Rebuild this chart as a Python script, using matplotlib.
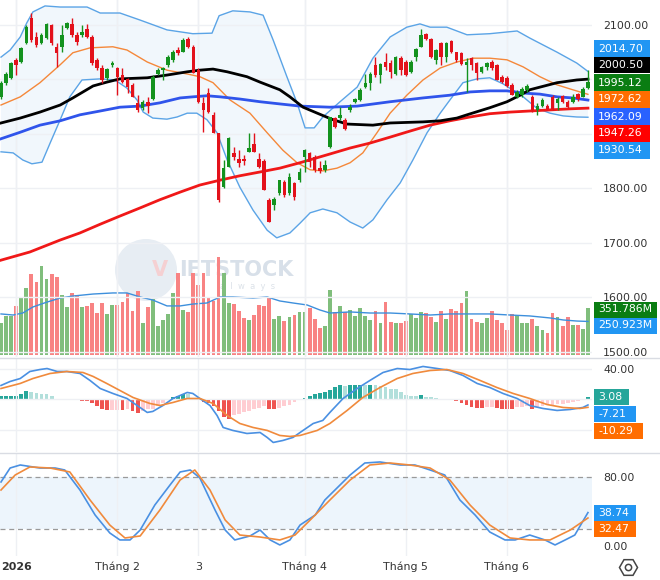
import numpy as np
import matplotlib
matplotlib.use("Agg")
import matplotlib.pyplot as plt
from matplotlib.lines import Line2D
from matplotlib.patches import Ellipse, Rectangle

plt.rcParams['font.family'] = ['DejaVu Sans']

# ---------------- data ----------------
opens = [1968, 1993, 2003, 2036, 2032, 2067, 2113, 2078, 2067, 2076,
         2100, 2060, 2060, 2094, 2102, 2082, 2082, 2093, 2078, 2036,
         2021, 2003, 2027, 2021, 2008, 2001, 1990, 1957, 1948, 1959,
         1964, 2010, 2017, 2027, 2036, 2054, 2050, 2074, 2060, 2017,
         1957, 1975, 1935, 1902, 1802, 1839, 1865, 1854, 1854, 1867,
         1881, 1854, 1850, 1779, 1769, 1791, 1812, 1791, 1810, 1815,
         1858, 1865, 1858, 1837, 1834, 1876, 1929, 1929, 1925, 1944,
         1959, 1962, 1986, 1993, 2027, 2008, 2032, 2030, 2010, 2039,
         2032, 2014, 2041, 2060, 2083, 2074, 2036, 2067, 2041, 2071,
         2050, 2049, 2027, 2039, 2030, 2014, 2023, 2032, 2027, 2004,
         2003, 1990, 1968, 1971, 1981, 1968, 1944, 1951, 1951, 1968,
         1957, 1970, 1959, 1959, 1973, 1968, 1984]
highs = [1997, 2013, 2032, 2039, 2060, 2100, 2122, 2087, 2085, 2104,
         2102, 2067, 2100, 2106, 2113, 2087, 2100, 2102, 2082, 2039,
         2027, 2021, 2034, 2023, 2021, 2003, 1993, 1971, 1962, 1968,
         2008, 2021, 2023, 2045, 2054, 2060, 2076, 2078, 2063, 2021,
         1968, 1984, 1940, 1902, 1852, 1894, 1876, 1870, 1861, 1902,
         1902, 1865, 1854, 1782, 1784, 1815, 1815, 1828, 1812, 1837,
         1872, 1867, 1861, 1850, 1852, 1931, 1931, 1949, 1929, 1955,
         1966, 1984, 2010, 2014, 2041, 2030, 2049, 2036, 2043, 2043,
         2036, 2036, 2058, 2093, 2085, 2076, 2056, 2069, 2069, 2072,
         2050, 2050, 2039, 2041, 2032, 2025, 2032, 2036, 2028, 2008,
         2006, 1993, 1981, 1986, 1991, 1971, 1957, 1966, 1955, 1971,
         1968, 1971, 1962, 1973, 1975, 1986, 2017]
lows = [1964, 1990, 2001, 2008, 2030, 2065, 2069, 2060, 2065, 2074,
        2063, 2023, 2050, 2092, 2078, 2063, 2078, 2076, 2027, 2017,
        1993, 1999, 2023, 1971, 1993, 1975, 1968, 1940, 1944, 1938,
        1962, 2008, 1999, 2023, 2032, 2045, 2050, 2058, 2012, 1957,
        1903, 1938, 1902, 1775, 1800, 1839, 1852, 1839, 1843, 1867,
        1867, 1837, 1797, 1738, 1760, 1788, 1784, 1788, 1779, 1812,
        1830, 1839, 1830, 1828, 1830, 1874, 1911, 1925, 1907, 1940,
        1957, 1960, 1984, 1981, 2004, 1993, 2017, 2003, 2008, 2008,
        2006, 2012, 2034, 2060, 2072, 2039, 2028, 2027, 2032, 2049,
        2032, 2027, 1977, 2017, 1999, 2012, 2017, 2017, 1999, 1993,
        1986, 1971, 1966, 1968, 1977, 1940, 1935, 1949, 1944, 1944,
        1944, 1957, 1948, 1957, 1960, 1968, 1982]
closes = [1993, 2010, 2030, 2027, 2058, 2096, 2072, 2063, 2082, 2102,
          2067, 2049, 2082, 2104, 2082, 2069, 2087, 2078, 2030, 2021,
          1999, 2019, 2030, 2004, 1995, 1986, 1968, 1944, 1959, 1951,
          2004, 2017, 2021, 2041, 2050, 2049, 2072, 2060, 2012, 1959,
          1944, 1940, 1902, 1779, 1837, 1892, 1858, 1846, 1850, 1874,
          1867, 1839, 1797, 1738, 1780, 1815, 1788, 1821, 1784, 1830,
          1870, 1848, 1834, 1832, 1843, 1931, 1913, 1935, 1909, 1949,
          1964, 1981, 1993, 2010, 2008, 2028, 2023, 2014, 2041, 2017,
          2008, 2032, 2056, 2082, 2074, 2041, 2054, 2041, 2067, 2050,
          2036, 2028, 2032, 2027, 2012, 2023, 2030, 2021, 1999, 1995,
          1988, 1971, 1977, 1982, 1988, 1944, 1951, 1962, 1946, 1946,
          1964, 1959, 1949, 1968, 1964, 1982, 1995.12]
volumes = [242, 292, 292, 367, 432, 499, 606, 546, 666, 568,
           606, 581, 449, 357, 466, 449, 357, 367, 391, 316,
           391, 307, 374, 374, 399, 466, 329, 481, 242, 357,
           417, 217, 262, 307, 466, 616, 337, 322, 616, 526,
           616, 436, 406, 731, 616, 391, 381, 331, 277, 262,
           301, 376, 367, 426, 269, 294, 252, 286, 299, 324,
           324, 354, 269, 204, 219, 486, 322, 367, 322, 337,
           292, 352, 292, 262, 329, 239, 396, 249, 239, 239,
           254, 307, 277, 322, 314, 284, 247, 329, 269, 344,
           329, 389, 479, 269, 247, 239, 277, 329, 262, 239,
           187, 307, 299, 239, 239, 269, 217, 187, 165, 314,
           284, 217, 284, 224, 224, 194, 351.786]
macd_hist = [4.4, 4.4, 5.2, 5.2, 7.4, 10.9, 9.6, 7.9, 7.4, 6.6,
             4.4, 0.9, 0.9, 1.0, 0.2, -1.3, -2.2, -2.2, -4.4, -8.7,
             -13.1, -14.4, -14.0, -13.5, -14.4, -13.1, -15.3, -17.5, -15.3, -13.1,
             -12.2, -8.7, -4.4, 0.9, 3.5, 5.2, 7.4, 6.6, 2.2, 0.9,
             -3.1, -4.4, -8.7, -15.3, -23.0, -25.3, -21.0, -18.4, -16.6, -15.3,
             -12.2, -10.9, -8.7, -12.2, -13.1, -10.9, -8.7, -6.6, -3.5, 0.9,
             2.2, 5.2, 7.4, 8.7, 9.6, 12.5, 16.2, 18.4, 18.0, 18.4,
             19.2, 19.2, 18.8, 19.2, 18.4, 17.5, 16.2, 14.0, 13.1, 9.6,
             6.1, 5.2, 5.0, 6.1, 3.1, 3.0, 1.7, -1.3, -1.3, -1.3,
             -2.6, -4.4, -7.9, -10.0, -11.4, -11.4, -10.0, -9.6, -11.4, -12.2,
             -12.4, -12.5, -10.0, -9.6, -9.2, -13.1, -10.0, -8.7, -7.9, -7.0,
             -5.7, -5.5, -4.4, -3.5, -2.6, 0.9, 3.08]

# indicator lines: (bar index, value)
bb_upper = [(0, 2041), (1.8, 2054), (3.8, 2078), (5.1, 2104), (6.3, 2124), (8.7, 2135),
            (11.7, 2133), (17, 2133), (19.6, 2122), (23.5, 2122), (27.5, 2109), (32.8, 2091),
            (37.9, 2084), (41.7, 2085), (43.1, 2117), (45.8, 2126), (49.2, 2124), (51.8, 2118),
            (53.8, 2072), (56.5, 2005), (58.5, 1957), (60.1, 1911), (61.9, 1911), (63.6, 1931),
            (67, 1959), (70.4, 1986), (73.5, 2039), (76.9, 2078), (80.2, 2096), (82.8, 2102),
            (84.8, 2096), (88.1, 2096), (92.1, 2082), (96.6, 2084), (102, 2089), (104.5, 2076),
            (109.9, 2050), (113.8, 2030), (116, 2014.70)]
bb_lower = [(0, 1867), (2.4, 1865), (4.3, 1852), (6.1, 1845), (8.1, 1848), (9.7, 1883),
            (11.7, 1926), (13.6, 1968), (16, 1999), (19.6, 2001), (22.5, 1999), (24.9, 1984),
            (26.9, 1962), (28.1, 1940), (30, 1929), (32.8, 1927), (34.8, 1931), (36.8, 1938),
            (38.7, 1938), (40.7, 1926), (42.7, 1902), (44.7, 1852), (47.2, 1802), (49.8, 1760),
            (52.6, 1723), (54.5, 1709), (57.1, 1718), (59.1, 1736), (61.1, 1755), (63.6, 1762),
            (66.4, 1755), (69, 1738), (71.5, 1727), (73.5, 1742), (76.3, 1779), (78.9, 1810),
            (81.4, 1852), (84.2, 1902), (86.8, 1938), (88.7, 1962), (91.3, 1994), (94.1, 2001),
            (96.6, 2003), (99.2, 1992), (101.2, 1980), (103.2, 1968), (105.9, 1947),
            (108.5, 1938), (111.1, 1933), (113.8, 1931), (116, 1930.54)]
ma20 = [(0, 1953), (3.8, 1968), (7.7, 1994), (11.7, 2027), (14.2, 2049), (17.6, 2058),
        (22.1, 2060), (24.9, 2054), (28.9, 2032), (32.8, 2017), (36.8, 2010), (39.3, 2005),
        (41.9, 1994), (45.3, 1962), (49.2, 1938), (52.6, 1902), (55.7, 1870), (58.5, 1847),
        (61.1, 1834), (63.6, 1832), (66.4, 1837), (69, 1847), (71.5, 1865), (74.3, 1902),
        (76.9, 1938), (80.2, 1971), (83.4, 1999), (86.8, 2021), (90.1, 2032), (93.3, 2039),
        (96.6, 2039), (100, 2036), (103.2, 2023), (106.5, 2005), (109.9, 1990), (113, 1981),
        (116, 1972.62)]
ma_black = [(0, 1920), (3.8, 1929), (7.7, 1940), (11.7, 1953), (14.2, 1966), (16.2, 1977),
            (18.2, 1988), (20.9, 1995), (23.5, 2001), (28.9, 2003), (32.8, 2008), (36.8, 2014),
            (39.3, 2017), (41.9, 2019), (44.7, 2014), (48.6, 2005), (51.2, 1995), (55.1, 1981),
            (57.1, 1968), (59.7, 1949), (62.5, 1938), (65.6, 1926), (68.4, 1918), (73.5, 1916),
            (76.9, 1920), (83.4, 1922), (86.8, 1924), (90.1, 1929), (92.1, 1935), (96.6, 1948),
            (100, 1959), (102.6, 1971), (104.5, 1981), (109.9, 1994), (113.8, 1999), (116, 2000.50)]
ma_blue = [(0, 1891), (3.8, 1903), (7.7, 1916), (11.7, 1924), (15.6, 1935), (19.6, 1942),
           (23.5, 1949), (27.5, 1951), (31.4, 1957), (35.4, 1966), (37.9, 1968), (40.7, 1970),
           (43.3, 1968), (47.2, 1964), (51.2, 1959), (55.1, 1955), (59.1, 1951), (65, 1949),
           (70.4, 1951), (76.9, 1959), (83.4, 1966), (88.7, 1971), (92.7, 1977), (96.6, 1979),
           (100, 1979), (103.2, 1975), (106.5, 1973), (109.9, 1968), (113, 1966), (116, 1962.09)]
ma_red = [(0, 1668), (5.7, 1683), (11.7, 1705), (15.6, 1718), (19.6, 1734), (23.5, 1749),
          (27.5, 1764), (31.4, 1779), (35.4, 1793), (39.3, 1806), (43.3, 1815), (47.2, 1823),
          (51.2, 1830), (55.1, 1837), (59.1, 1847), (65, 1863), (69, 1874), (72.9, 1883),
          (76.9, 1894), (80.8, 1905), (84.8, 1916), (88.7, 1924), (92.7, 1931), (96.6, 1937),
          (100.6, 1940), (104.5, 1942), (108.5, 1944), (112.5, 1946), (116, 1947.26)]
vol_ma = [(0, 307), (2.4, 299), (4.3, 314), (6.3, 359), (9.1, 396), (11.7, 426), (14.2, 441),
          (18.2, 456), (22.1, 464), (24.9, 464), (27.5, 434), (30, 411), (32.8, 367), (35.4, 367),
          (37.9, 381), (40.7, 389), (43.3, 434), (45.8, 434), (49.8, 426), (52.6, 434),
          (55.1, 404), (57.7, 389), (60.5, 374), (63, 337), (65, 314), (69, 322), (72.9, 314),
          (76.9, 314), (80.8, 307), (84.8, 299), (88.7, 307), (92.7, 307), (96.6, 307),
          (100.6, 299), (104.5, 292), (108.5, 277), (111.1, 262), (113.8, 254), (116, 250.923)]
macd_line = [(0, 18.4), (1.8, 23.6), (3.8, 27.5), (5.7, 36.7), (7.7, 39.3), (9.1, 40.6),
             (11.1, 36.7), (13, 36.7), (15.6, 34.1), (17.6, 24.9), (19.6, 14.4), (22.1, 7.9),
             (24.9, 1.3), (26.9, -7.9), (28.9, -17), (30, -15.7), (32, -7.9), (34, 1.3),
             (36.8, 9.2), (37.9, 7.9), (39.3, 1.3), (41.3, -7.9), (42.7, -21), (43.9, -36.7),
             (45.8, -40.6), (48.6, -44.6), (51.2, -43.3), (52.6, -49.8), (53.8, -56.4),
             (55.7, -53.8), (57.7, -49.8), (59.7, -40.6), (61.7, -31.5), (63.6, -27.5),
             (65, -17), (67.6, 1.3), (70.4, 14.4), (72.9, 24.9), (75.5, 35.4), (78.3, 40.6),
             (80.8, 39.3), (83.4, 43.3), (86.2, 40.6), (88.7, 38), (91.3, 31.5), (94.1, 21),
             (96.6, 15.7), (99.2, 7.9), (102, 1.3), (104.5, -7.9), (107.1, -11.8),
             (109.9, -14.4), (112.5, -13.1), (115, -10.5), (116, -7.21)]
macd_signal = [(0, 14.4), (3.8, 21), (6.3, 27.5), (9.7, 34.1), (13, 36.7), (16.2, 35.4),
               (18.2, 30.2), (20.9, 21), (23.5, 11.8), (26.1, 2.6), (29.4, -5.2), (31.4, -7.9),
               (34, -3.9), (36.8, 1.3), (39.3, 1.3), (41.9, -5.2), (44.7, -21), (47.2, -31.5),
               (49.8, -36.7), (52.6, -40.6), (55.1, -47.2), (57.1, -48.5), (59.1, -47.2),
               (62.5, -40.6), (65, -31.5), (68.4, -14.4), (71.5, 2.6), (74.9, 15.7),
               (78.3, 27.5), (81.4, 34.1), (84.8, 38), (88.1, 39.3), (91.3, 34.1), (94.7, 24.9),
               (98, 15.7), (101.2, 7.9), (104.5, 1.3), (107.9, -6.6), (111.1, -10.5),
               (114.4, -11.8), (116, -10.29)]
stoch_k = [(0, 74.2), (1.8, 90.4), (3.8, 93.9), (7.7, 90.4), (10.7, 90.4), (12.6, 88.1),
           (15.6, 64.9), (18.6, 35.9), (21.5, 15.1), (23.5, 7), (25.5, 7), (27.5, 18.5),
           (30.4, 47.5), (33.4, 70.7), (35.4, 85.8), (37.4, 88.1), (39.3, 78.8), (42.3, 41.7),
           (44.3, 18.5), (46.2, 7), (49.2, 11.6), (51.2, 18.5), (53.2, 7), (55.1, 1.2),
           (57.1, 7), (59.1, 24.3), (62.1, 35.9), (64, 53.3), (66, 64.9), (69, 82.3),
           (71.9, 96.2), (74.9, 97.4), (78.9, 93.9), (81.8, 93.9), (84.8, 88.1), (87.7, 82.3),
           (90.7, 53.3), (93.7, 35.9), (96.6, 16.2), (99.6, 7), (101.6, 7), (104.5, 12.7),
           (107.5, 7), (109.5, 1.2), (111.5, 7), (113.4, 12.7), (116, 38.74)]
stoch_d = [(0, 64.9), (2.8, 82.3), (5.7, 91.6), (9.7, 90.4), (13.6, 85.8), (17.6, 53.3),
           (21.5, 24.3), (24.5, 9.3), (27.5, 11.6), (31.4, 41.7), (35.4, 76.5), (38.3, 88.1),
           (41.3, 64.9), (44.3, 30.1), (47.2, 12.7), (51.2, 10.4), (55.1, 7), (58.1, 12.7),
           (61.1, 30.1), (65, 53.3), (69, 76.5), (72.9, 93.9), (76.9, 96.2), (80.8, 93.9),
           (84.8, 90.4), (88.7, 76.5), (92.7, 47.5), (96.6, 24.3), (100.6, 9.3), (104.5, 7),
           (108.5, 7), (112.5, 18.5), (116, 32.47)]

month_pos = [3, 23, 39, 60, 80, 100]
month_labels = ['2026', 'Tháng 2', '3', 'Tháng 4', 'Tháng 5', 'Tháng 6']
price_ticks = [1500, 1600, 1700, 1800, 1900, 2000, 2100]
price_hidden = [1900, 2000]   # labels sit behind the value tags

# ---------------- layout ----------------
W, H = 660, 580
GREEN, RED = '#13921e', '#e3111b'
GRID = '#eef0f4'
TXT = '#333333'
FS = 7.9

fig = plt.figure(figsize=(W / 100, H / 100), dpi=100, facecolor='white')


def box(top, bottom, right=592):
    return [0, 1 - bottom / H, right / W, (bottom - top) / H]


def curve(pts):
    a = np.array(pts, dtype=float)
    return a[:, 0], a[:, 1]


def px(x, y):
    return x / W, 1 - y / H


ax_v = fig.add_axes(box(0, 357), zorder=0)
ax_p = fig.add_axes(box(0, 357), zorder=1, sharex=ax_v)
ax_m = fig.add_axes(box(358, 452), sharex=ax_v)
ax_s = fig.add_axes(box(453, 556), sharex=ax_v)

for a in (ax_v, ax_p, ax_m, ax_s):
    a.patch.set_visible(False)
    for s in a.spines.values():
        s.set_visible(False)
    a.set_xticks(month_pos)
    a.grid(axis='x', color=GRID, lw=1)
    a.tick_params(length=0, labelsize=FS, labelcolor=TXT, pad=8)
    a.yaxis.tick_right()
ax_v.set_xlim(-0.2, 116.8)

# watermark
fig.add_artist(Ellipse(px(146, 270), 62 / W, 62 / H, transform=fig.transFigure,
                       fc='#dfe7ef', ec='none', alpha=0.75, zorder=-2))
fig.text(*px(160, 270), 'V', color='#f5d0d2', fontsize=15, fontweight='bold',
         ha='center', va='center', zorder=-1)
fig.text(*px(236, 270), 'IETSTOCK', color='#d8e0e9', fontsize=15, fontweight='bold',
         ha='center', va='center', zorder=-1)
fig.text(*px(248, 287), 'a  l  w  a  y  s', color='#dce2e9', fontsize=6,
         ha='center', va='center', zorder=-1)

x = np.arange(len(closes))
up = np.array(closes) >= np.array(opens)

# volume (behind the price panel)
ax_v.bar(x, volumes, width=0.75, color=np.where(up, '#80be7c', '#f88383'), lw=0)
ax_v.plot(*curve(vol_ma), color='#3d8fdc', lw=1)
ax_v.set_ylim(-15, 2655)
ax_v.set_yticks([])
ax_v.tick_params(labelbottom=False)

# price panel
ux, uy = curve(bb_upper)
lx, ly = curve(bb_lower)
ax_p.fill(np.r_[ux, lx[::-1]], np.r_[uy, ly[::-1]], color='#e4f0fb', alpha=0.5, lw=0)
ax_p.plot(ux, uy, color='#5ba4e6', lw=1)
ax_p.plot(lx, ly, color='#5ba4e6', lw=1)
ax_p.plot(*curve(ma20), color='#f5883a', lw=1)
ax_p.plot(*curve(ma_red), color='#f01818', lw=2)
ax_p.plot(*curve(ma_blue), color='#2f54eb', lw=2)
ax_p.plot(*curve(ma_black), color='black', lw=2)

for i in x:
    c = GREEN if up[i] else RED
    o, cl = opens[i], closes[i]
    ax_p.vlines(i, lows[i], highs[i], color=c, lw=1, zorder=3)
    ax_p.bar(i, max(abs(cl - o), 1.2), bottom=min(o, cl), width=0.7, color=c, lw=0, zorder=3)

ax_p.set_ylim(1490.1, 2145.9)
ax_p.set_yticks(price_ticks, ['' if t in price_hidden else f'{t:.2f}' for t in price_ticks])
ax_p.grid(axis='y', color=GRID, lw=1)
ax_p.tick_params(labelbottom=False)

# MACD panel
h = np.array(macd_hist)
prev = np.r_[h[0], h[:-1]]
hcol = np.where(h >= 0, np.where(h >= prev, '#26a69a', '#b2dfdb'),
                np.where(h <= prev, '#ef5350', '#ffcdd2'))
ax_m.bar(x, h, width=0.75, color=hcol, lw=0)
ax_m.plot(*curve(macd_line), color='#4a90e2', lw=1.2)
ax_m.plot(*curve(macd_signal), color='#f08a3c', lw=1.2)
ax_m.set_ylim(-68.9, 54.4)
ax_m.set_yticks([-40, 0, 40], ['', '', '40.00'])
ax_m.grid(axis='y', color=GRID, lw=1)
ax_m.tick_params(labelbottom=False)

# stochastic panel
ax_s.axhspan(20, 80, color='#e6f1fc', alpha=0.7, lw=0)
for lvl in (20, 80):
    ax_s.axhline(lvl, color='#9a9a9a', lw=0.9, dashes=(4, 3))
ax_s.plot(*curve(stoch_k), color='#4a90e2', lw=1.2)
ax_s.plot(*curve(stoch_d), color='#f08a3c', lw=1.2)
ax_s.set_ylim(-11.6, 107.8)
ax_s.set_yticks([0, 80], ['0.00', '80.00'])
ax_s.set_xticklabels(month_labels)
ax_s.tick_params(axis='x', pad=4)
ax_s.get_xticklabels()[0].set_fontweight('bold')

# panel separators
for y in (357.5, 452.5):
    fig.add_artist(Line2D([0, 1], [1 - y / H] * 2, color='#d9dce3', lw=1,
                          transform=fig.transFigure))


# last-value tags on the right scale
def tag(y, text, color):
    w = 8 + 6.85 * len(text)
    fig.add_artist(Rectangle(px(594, y + 8), w / W, 16 / H, transform=fig.transFigure,
                             fc=color, ec='none', zorder=9))
    fig.text(598 / W, 1 - y / H, text, color='white', fontsize=7.8, ha='left', va='center',
             zorder=10)


tag(48.5, f'{bb_upper[-1][1]:.2f}', '#2196f3')
tag(65.5, f'{ma_black[-1][1]:.2f}', '#000000')
tag(82.5, f'{closes[-1]:.2f}', '#0a7d12')
tag(99.5, f'{ma20[-1][1]:.2f}', '#ff6d00')
tag(116.5, f'{ma_blue[-1][1]:.2f}', '#2962ff')
tag(133.5, f'{ma_red[-1][1]:.2f}', '#ff0000')
tag(150.5, f'{bb_lower[-1][1]:.2f}', '#2196f3')
tag(309.5, f'{volumes[-1]:.3f}M', '#0a7d12')
tag(325.5, f'{vol_ma[-1][1]:.3f}M', '#2196f3')
tag(397, f'{macd_hist[-1]:.2f}', '#26a69a')
tag(414, f'{macd_line[-1][1]:.2f}', '#2196f3')
tag(431, f'{macd_signal[-1][1]:.2f}', '#ff6d00')
tag(513, f'{stoch_k[-1][1]:.2f}', '#2196f3')
tag(529, f'{stoch_d[-1][1]:.2f}', '#ff6d00')

# settings icon
fig.add_artist(Line2D([628 / W], [1 - 567 / H], marker='H', markersize=13, mfc='none',
                      mec='#444', mew=1.1, transform=fig.transFigure))
fig.add_artist(Line2D([628 / W], [1 - 567 / H], marker='o', markersize=4.5, mfc='none',
                      mec='#444', mew=1.1, transform=fig.transFigure))

fig.savefig('out.png', dpi=100, facecolor='white')
